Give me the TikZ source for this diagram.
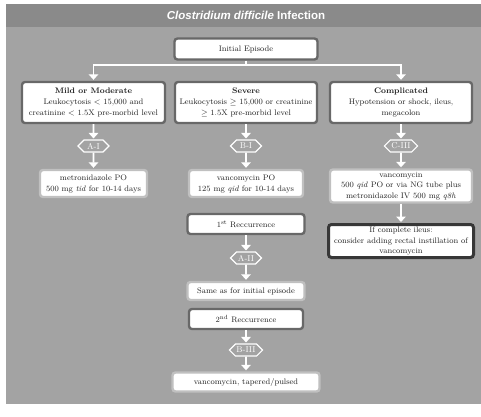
\documentclass[tikz,border=0pt]{standalone}
\usepackage{fontspec}
\newfontfamily\titlefont{Liberation Sans}
\usetikzlibrary{arrows.meta,positioning,shapes.symbols}
\definecolor{panelgray}{RGB}{163,163,163}
\definecolor{titlegray}{RGB}{138,138,138}
\definecolor{boxdark}{RGB}{104,104,104}
\definecolor{boxlight}{RGB}{192,192,192}
\definecolor{boxblack}{RGB}{55,55,55}
\definecolor{inktext}{RGB}{35,35,35}
\tikzset{
  box/.style={draw=boxdark, line width=2.4pt, fill=white, rounded corners=3pt,
    align=center, text=inktext, font=\fontsize{8}{11}\selectfont, inner sep=1.5pt},
  rxbox/.style={box, draw=boxlight},
  alertbox/.style={box, draw=boxblack, line width=3pt},
  tight/.style={font=\fontsize{8}{10.2}\selectfont, inner sep=0.5pt},
  grade/.style={signal, signal to=west and east, draw=white, line width=1.1pt,
    fill=panelgray, text=white, font=\fontsize{8.5}{9}\selectfont,
    minimum width=31pt, minimum height=12pt, inner sep=1pt},
  flowline/.style={white, line width=1.6pt},
  flowarrow/.style={flowline, -{Triangle[width=9.5pt,length=5.5pt]}, shorten >=1pt},
}

\begin{document}
\begin{tikzpicture}[x=1pt,y=-1pt]
\useasboundingbox (0,0) rectangle (481,416);

% Panel and title bar
\fill[panelgray] (6,4) rectangle (481,404);
\fill[titlegray] (6,4) rectangle (481,27);
\node[font=\titlefont\bfseries\fontsize{11.5}{12}\selectfont, text=white] (title)
  at (246,15.5) {\textit{Clostridium difficile} Infection};

% Initial episode and severity boxes
\node[box, minimum width=143pt, minimum height=21pt] (init) at (246,49) {Initial Episode};
\node[box, minimum width=143pt, minimum height=41pt] (mild) at (93.5,102.5)
  {\textbf{Mild or Moderate}\\Leukocytosis $<$ 15,000 and\\creatinine $<$ 1.5X pre-morbid level};
\node[box, minimum width=142pt, minimum height=41pt] (severe) at (246,102.5)
  {\textbf{Severe}\\Leukocytosis $\geq$ 15,000 or creatinine\\$\geq$ 1.5X pre-morbid level};
\node[box, minimum width=142pt, minimum height=41pt] (compl) at (401,102.5)
  {\textbf{Complicated}\\Hypotension or shock, ileus,\\megacolon};

% Grade tags
\node[grade] (ai) at (93.5,146) {A-I};
\node[grade] (bi) at (246,146) {B-I};
\node[grade] (ciii) at (401,146) {C-III};

% Treatments
\node[rxbox, minimum width=107pt, minimum height=27pt] (mildrx) at (93.5,183.5)
  {metronidazole PO\\500 mg \textit{tid} for 10-14 days};
\node[rxbox, minimum width=114pt, minimum height=27pt] (sevrx) at (246,183.5)
  {vancomycin PO\\125 mg \textit{qid} for 10-14 days};
\node[rxbox, tight, minimum width=142pt, minimum height=33pt] (comprx) at (401,186)
  {vancomycin\\500 \textit{qid} PO or via NG tube plus\\metronidazole IV 500 mg \textit{q8h}};
\node[alertbox, tight, minimum width=145pt, minimum height=33pt] (ileus) at (401,241)
  {If complete ileus:\\consider adding rectal instillation of\\vancomycin};

% Recurrences
\node[box, minimum width=117pt, minimum height=20pt] (recone) at (246,224)
  {1\textsuperscript{st} Reccurrence};
\node[grade] (aii) at (246,258) {A-II};
\node[rxbox, minimum width=117pt, minimum height=18pt] (same) at (246,291)
  {Same as for initial episode};
\node[box, minimum width=114pt, minimum height=20pt] (rectwo) at (246,319)
  {2\textsuperscript{nd} Reccurrence};
\node[grade] (biii) at (246,350) {B-III};
\node[rxbox, minimum width=147pt, minimum height=19pt] (taper) at (246,382)
  {vancomycin, tapered/pulsed};

% Split below initial episode
\coordinate (split) at (246,65);
\coordinate (jl) at (mild.north |- split);
\coordinate (jr) at (compl.north |- split);
\draw[flowline] (init) -- (split);
\draw[flowline, line cap=rect] (jl) -- (jr);
\draw[flowarrow] (jl) -- (mild);
\draw[flowarrow] (jr) -- (compl);

% Arrows through the grade tags
\foreach \a/\g/\b in {mild/ai/mildrx, severe/bi/sevrx, compl/ciii/comprx,
                      recone/aii/same, rectwo/biii/taper}{
  \draw[flowarrow] (\a) -- (\g);
  \draw[flowarrow] (\g) -- (\b);
}
\draw[flowarrow] (comprx) -- (ileus);
\end{tikzpicture}
\end{document}
